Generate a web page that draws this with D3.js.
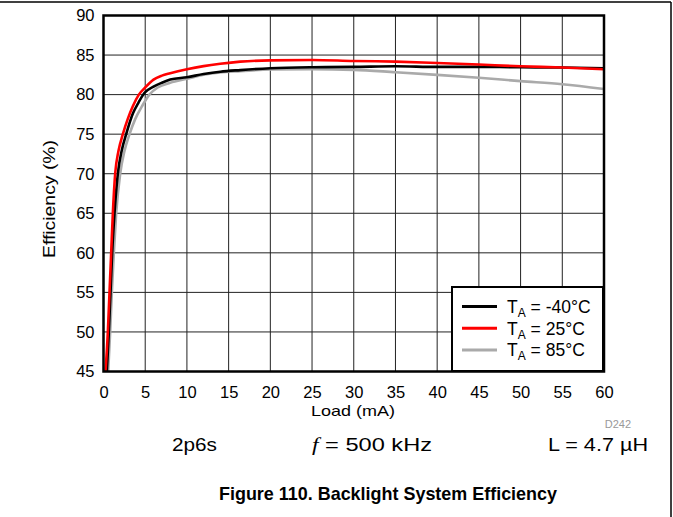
<!DOCTYPE html>
<html><head><meta charset="utf-8">
<script src="https://cdn.jsdelivr.net/npm/d3@7"></script>
<style>
html,body{margin:0;padding:0;background:#fff;}
svg{display:block;font-family:"Liberation Sans",Arial,sans-serif;}
</style></head>
<body><svg id="c" width="673" height="517"></svg>
<script>
// ---- data ----
const xTicks = [0,5,10,15,20,25,30,35,40,45,50,55,60];
const yTicks = [45,50,55,60,65,70,75,80,85,90];

const loadM40 = [0.4,0.64,0.84,1.04,1.32,1.72,2.2,2.72,3.52,4.2,4.9,6,7,8,10,12,14,16.4,20,25,30,35,40,45,50,55,60];
const effM40  = [45,50,55,60,65,70,73,75,77.6,79,80.2,81.0,81.5,81.9,82.2,82.6,82.9,83.1,83.33,83.46,83.5,83.58,83.5,83.5,83.46,83.42,83.33];

const load25 = [0.24,0.52,0.72,0.92,1.12,1.4,1.8,2.32,2.9,3.5,4.24,5,6,7,8,10,12,14,16.4,20,25,30,35,40,45,50,55,60];
const eff25  = [45,50,55,60,65,70,72.9,75,76.9,78.5,80,80.9,81.9,82.4,82.7,83.2,83.6,83.9,84.17,84.33,84.38,84.25,84.17,84.0,83.8,83.58,83.42,83.2];

const load85 = [0.56,0.8,1.0,1.24,1.52,2.0,2.5,3.12,3.8,4.6,5.5,6.5,8,10,12,14,16.4,20,25,30,35,40,45,50,55,60];
const eff85  = [45,50,55,60,65,70,72.8,75,76.9,78.5,80,80.9,81.5,82.0,82.5,82.8,82.96,83.17,83.2,83.13,82.83,82.5,82.13,81.7,81.3,80.7];

const seriesNames = ["-40°C","25°C","85°C"];
const seriesColors = ["#000000","#ff0000","#aaaaaa"];
const seriesLoads = [loadM40, load25, load85];
const seriesEffs = [effM40, eff25, eff85];

// ---- layout ----
const svg = d3.select("#c");
const L = 103.5, R = 604, T = 15.5, B = 371.5;
const x = d3.scaleLinear().domain([0,60]).range([L,R]);
const y = d3.scaleLinear().domain([45,90]).range([B,T]);

// outer frame (top and right)
svg.append("line").attr("x1",0).attr("x2",671).attr("y1",2).attr("y2",2).attr("stroke","#000").attr("stroke-width",1.5);
svg.append("line").attr("x1",671).attr("x2",671).attr("y1",2).attr("y2",517).attr("stroke","#000").attr("stroke-width",1.5);

// grid
const g = svg.append("g");
g.selectAll(".vg").data(xTicks.slice(1,-1)).join("line")
  .attr("x1",d=>x(d)).attr("x2",d=>x(d)).attr("y1",T).attr("y2",B)
  .attr("stroke","#222").attr("stroke-width",1);
g.selectAll(".hg").data(yTicks.slice(1,-1)).join("line")
  .attr("y1",d=>y(d)).attr("y2",d=>y(d)).attr("x1",L).attr("x2",R)
  .attr("stroke","#222").attr("stroke-width",1);

// axes via d3 axis (labels only, no tick marks)
const xAxis = svg.append("g").attr("transform",`translate(0,${B})`)
  .call(d3.axisBottom(x).tickValues(xTicks).tickSize(0).tickPadding(15));
const yAxis = svg.append("g").attr("transform",`translate(${L},0)`)
  .call(d3.axisLeft(y).tickValues(yTicks).tickSize(0).tickPadding(9));
[xAxis,yAxis].forEach(a=>{
  a.select(".domain").remove();
  a.selectAll("text").attr("font-size",16.5).attr("fill","#000").attr("font-family","'Liberation Sans',Arial,sans-serif");
});

// curves
const line = d3.line().x(d=>x(d[0])).y(d=>y(d[1])).curve(d3.curveMonotoneX);
const order = [2,0,1];
order.forEach(i=>{
  const pts = seriesLoads[i].map((v,k)=>[v, seriesEffs[i][k]]);
  svg.append("path").datum(pts).attr("d",line).attr("fill","none")
    .attr("stroke",seriesColors[i]).attr("stroke-width",2.6).attr("stroke-linejoin","round");
});

// plot frame
svg.append("rect").attr("x",L).attr("y",T).attr("width",R-L).attr("height",B-T)
  .attr("fill","none").attr("stroke","#000").attr("stroke-width",2.5);

// legend
const lg = svg.append("g");
lg.append("rect").attr("x",452).attr("y",287).attr("width",151).attr("height",84)
  .attr("fill","#fff").attr("stroke","#000").attr("stroke-width",2);
seriesNames.forEach((n,i)=>{
  const yy = 306.5 + i*21.7;
  lg.append("line").attr("x1",462).attr("x2",497).attr("y1",yy).attr("y2",yy)
    .attr("stroke",seriesColors[i]).attr("stroke-width",3);
  const t = lg.append("text").attr("x",507).attr("y",yy+6.5).attr("font-size",17.5).attr("fill","#000");
  t.append("tspan").text("T");
  t.append("tspan").attr("font-size",12).attr("dy",4).text("A");
  t.append("tspan").attr("dy",-4).text(" = " + n);
});

// axis titles
svg.append("text").attr("x",311).attr("y",416)
  .attr("font-size",15).attr("textLength",84).attr("lengthAdjust","spacingAndGlyphs").text("Load (mA)");
svg.append("text").attr("transform",`translate(55,199) rotate(-90)`).attr("text-anchor","middle")
  .attr("font-size",17).attr("textLength",118).attr("lengthAdjust","spacingAndGlyphs").text("Efficiency (%)");

// notes
svg.append("text").attr("x",631).attr("y",428).attr("text-anchor","end")
  .attr("font-size",11).attr("fill","#999").text("D242");
svg.append("text").attr("x",172).attr("y",451).attr("font-size",19)
  .attr("textLength",45).attr("lengthAdjust","spacingAndGlyphs").text("2p6s");
const ft = svg.append("text").attr("x",312).attr("y",451).attr("font-size",19)
  .attr("textLength",120).attr("lengthAdjust","spacingAndGlyphs");
ft.append("tspan").attr("font-family","'Liberation Serif',serif").attr("font-style","italic").text("f");
ft.append("tspan").text(" = 500 kHz");
svg.append("text").attr("x",548).attr("y",451).attr("font-size",19)
  .attr("textLength",100).attr("lengthAdjust","spacingAndGlyphs").text("L = 4.7 µH");

svg.append("text").attr("x",219).attr("y",500)
  .attr("font-size",18.5).attr("font-weight","bold")
  .attr("textLength",338).attr("lengthAdjust","spacingAndGlyphs")
  .text("Figure 110. Backlight System Efficiency");
</script>
</body></html>
